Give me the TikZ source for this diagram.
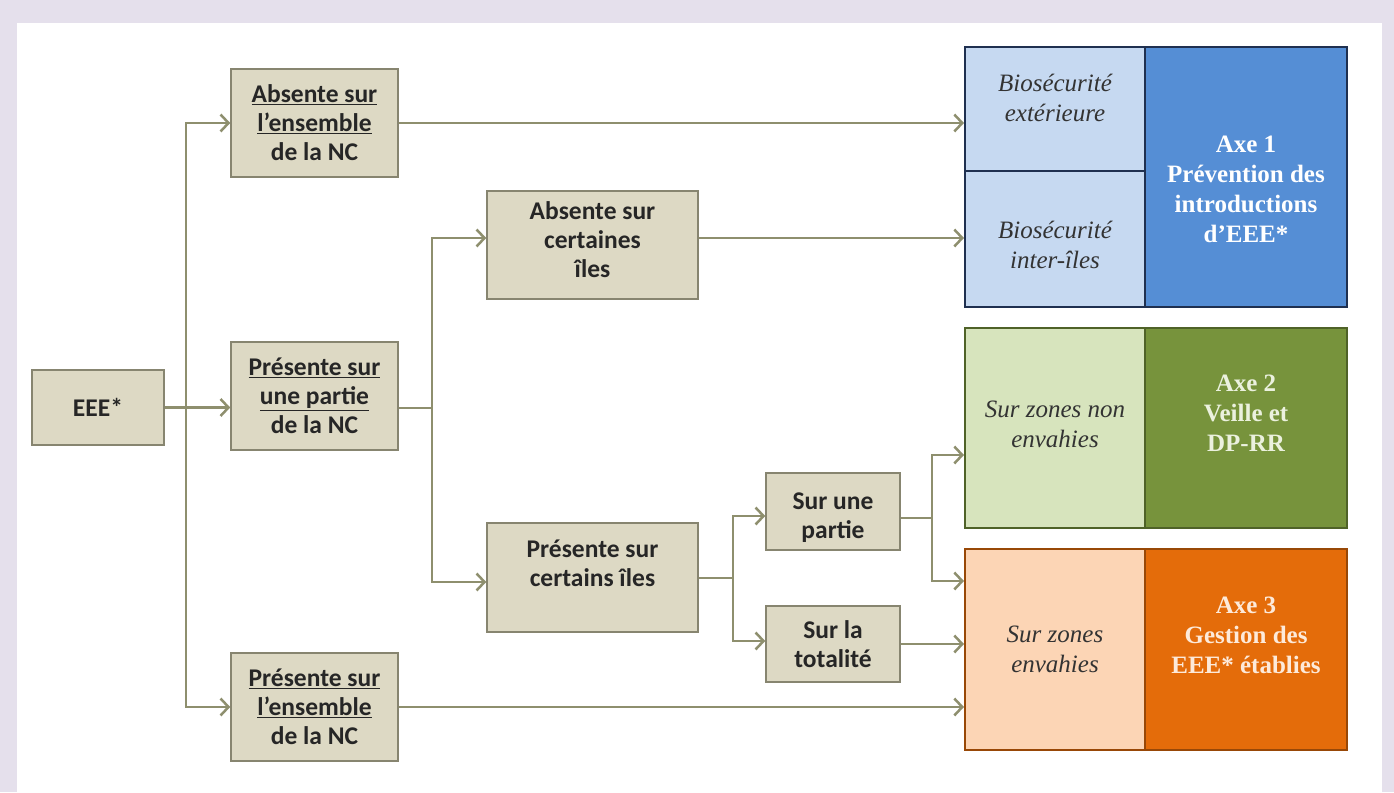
\documentclass[tikz,border=0pt]{standalone}
\usepackage{fontspec}
\setmainfont{Liberation Serif}
\newfontfamily\calib{Carlito}
\usetikzlibrary{arrows.meta}
\definecolor{lav}{HTML}{E5E0EC}
\definecolor{tanf}{HTML}{DDD9C4}
\definecolor{tanb}{HTML}{878570}
\definecolor{linec}{HTML}{8E8F6E}
\definecolor{blueL}{HTML}{C6D9F1}
\definecolor{blueD}{HTML}{558ED5}
\definecolor{blueB}{HTML}{1F3050}
\definecolor{greenL}{HTML}{D7E4BD}
\definecolor{greenD}{HTML}{77933C}
\definecolor{greenB}{HTML}{4F6228}
\definecolor{greenT}{HTML}{EBF1DE}
\definecolor{orL}{HTML}{FCD5B5}
\definecolor{orD}{HTML}{E46C0A}
\definecolor{orB}{HTML}{984807}
\definecolor{orT}{HTML}{FDEADA}
\tikzset{
  tanbox/.style={draw=tanb, fill=tanf, line width=1.5pt, align=center, inner sep=0pt,
    font=\calib\bfseries\fontsize{25.5}{29}\selectfont, text=black!85},
  conn/.style={draw=linec, line width=2.5pt},
  arr/.style={conn, -{Straight Barb[length=8pt,width=17pt]}},
  axbox/.style={line width=2pt, align=center, inner sep=0pt, font=\fontsize{25}{30}\selectfont},
  sublab/.style={axbox, text=black!80, font=\itshape\fontsize{25}{30}\selectfont},
  mainlab/.style={axbox, text=white, font=\bfseries\fontsize{25}{30}\selectfont},
}
\begin{document}
\begin{tikzpicture}[x=1pt,y=-1pt]
\useasboundingbox (0,0) rectangle (1394,792);
\fill[lav] (0,0) rectangle (1394,792);
\fill[white] (17,23) rectangle (1382,792);

% left tan boxes
\node[tanbox, minimum width=132pt, minimum height=75pt] (eee) at (98,407.5) {EEE*};
\node[tanbox, minimum width=167pt, minimum height=108pt] (absNC) at (314.5,123) {\underline{Absente sur}\\\underline{l’ensemble}\\de la NC};
\node[tanbox, minimum width=167pt, minimum height=108pt] (presPart) at (314.5,396) {\underline{Présente sur}\\\underline{une partie}\\de la NC};
\node[tanbox, minimum width=167pt, minimum height=108pt] (presEns) at (314.5,707) {\underline{Présente sur}\\\underline{l’ensemble}\\de la NC};
\node[tanbox, minimum width=211pt, minimum height=108pt] (absIles) at (592.5,245) {Absente sur\\certaines\\îles\\[-19pt]\mbox{}};
\node[tanbox, minimum width=211pt, minimum height=109pt] (presIles) at (592.5,577.5) {Présente sur\\certains îles\\\mbox{}};
\node[tanbox, minimum width=134pt, minimum height=77pt] (surPart) at (833,511.5) {\mbox{}\\[0pt]Sur une\\partie};
\node[tanbox, minimum width=134pt, minimum height=76pt] (surTot) at (833,644) {Sur la\\totalité};

% right blocks
\node[sublab, draw=blueB, fill=blueL, minimum width=180pt, minimum height=124pt] (bio1) at (1055,109) {Biosécurité\\extérieure\\[-8pt]\mbox{}};
\node[sublab, draw=blueB, fill=blueL, minimum width=180pt, minimum height=136pt] (bio2) at (1055,239) {\mbox{}\\[0pt]Biosécurité\\inter-îles};
\node[mainlab, draw=blueB, fill=blueD, minimum width=202pt, minimum height=260pt] (ax1) at (1246,177) {\mbox{}\\[12pt]Axe 1\\Prévention des\\introductions\\d’EEE*};
\node[sublab, draw=greenB, fill=greenL, minimum width=180pt, minimum height=200pt] (ax2l) at (1055,428) {Sur zones non\\envahies\\[-22pt]\mbox{}};
\node[mainlab, draw=greenB, fill=greenD, text=greenT, minimum width=202pt, minimum height=200pt] (ax2r) at (1246,428) {Axe 2\\Veille et\\DP-RR\\[0pt]\mbox{}};
\node[sublab, draw=orB, fill=orL, minimum width=180pt, minimum height=201pt] (ax3l) at (1055,649.5) {Sur zones\\envahies};
\node[mainlab, draw=orB, fill=orD, text=orT, minimum width=202pt, minimum height=201pt] (ax3r) at (1246,649.5) {Axe 3\\Gestion des\\EEE* établies\\[-2pt]\mbox{}};

% connectors
\coordinate (t1) at (186,407.5);
\draw[arr] (eee.east) -- (presPart.west |- eee.east);
\draw[arr] (t1) |- (absNC.west);
\draw[arr] (t1) |- (presEns.west);

\coordinate (t2) at (432,408);
\draw[conn] (presPart.east |- t2) -- (t2);
\draw[arr] (t2) |- ([yshift=7pt]absIles.west);
\draw[arr] (t2) |- ([yshift=-4.5pt]presIles.west);

\coordinate (t3) at (733,578);
\draw[conn] (presIles.east |- t3) -- (t3);
\draw[arr] (t3) |- ([yshift=-4.5pt]surPart.west);
\draw[arr] (t3) |- ([yshift=3pt]surTot.west);

\coordinate (t4) at (932,518);
\draw[conn] (surPart.east |- t4) -- (t4);
\draw[arr] (t4) |- ([yshift=-27pt]ax2l.west);
\draw[arr] (t4) |- ([yshift=68.5pt]ax3l.west);

\draw[arr] (absNC.east) -- (absNC.east -| bio1.west);
\draw[arr] ([yshift=7pt]absIles.east) -- ([yshift=7pt]absIles.east -| bio2.west);
\draw[arr] (surTot.east) -- (surTot.east -| ax3l.west);
\draw[arr] (presEns.east) -- (presEns.east -| ax3l.west);
\end{tikzpicture}
\end{document}
